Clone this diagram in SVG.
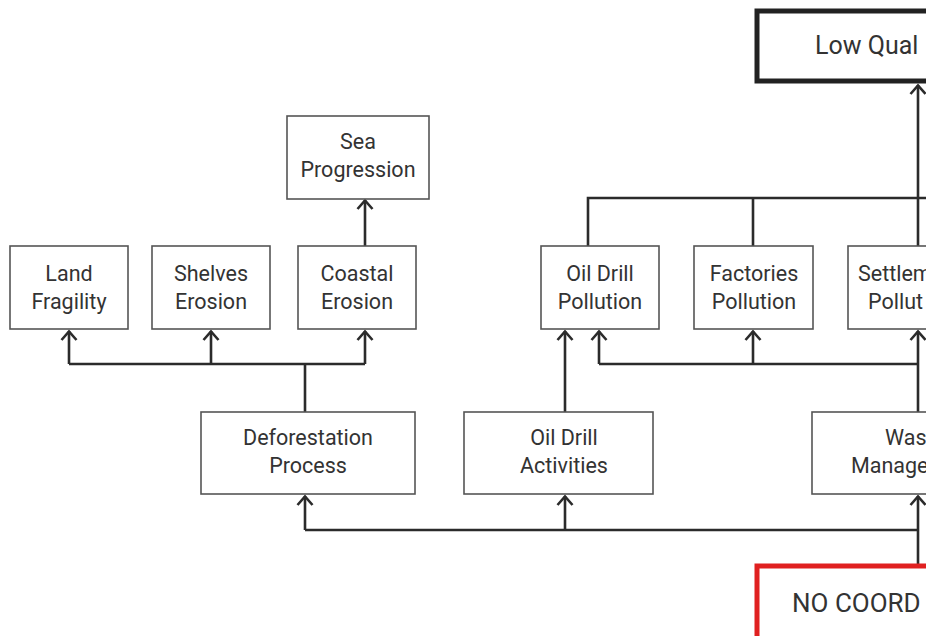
<svg xmlns="http://www.w3.org/2000/svg" width="926" height="636" viewBox="0 0 926 636">
<style>
.box{fill:#fff;stroke:#555;stroke-width:1.6}
.t{font-family:Roboto,"Open Sans",sans-serif;font-size:21.5px;fill:#333;text-anchor:middle}
.ts{font-family:Roboto,"Open Sans",sans-serif;font-size:21.5px;fill:#333}
.c{fill:none;stroke:#2b2b2b;stroke-width:2.6}
</style>
<defs>
<marker id="ah" viewBox="-12 -10 14 20" markerWidth="14" markerHeight="20" refX="0" refY="0" markerUnits="userSpaceOnUse" orient="auto">
<path d="M-9,-7.5 L-0.5,0 L-9,7.5" fill="none" stroke="#2b2b2b" stroke-width="2.6"/>
</marker>
</defs>
<rect width="926" height="636" fill="#fff"/>
<g id="connectors">
<path class="c" d="M365,246 V200" marker-end="url(#ah)"/>
<path class="c" d="M305,412 V364 M69,364 H365"/>
<path class="c" d="M69,364 V331" marker-end="url(#ah)"/>
<path class="c" d="M211,364 V331" marker-end="url(#ah)"/>
<path class="c" d="M365,364 V331" marker-end="url(#ah)"/>
<path class="c" d="M918,565 V530 M305,530 H918"/>
<path class="c" d="M305,530 V496" marker-end="url(#ah)"/>
<path class="c" d="M565,530 V496" marker-end="url(#ah)"/>
<path class="c" d="M918,530 V496" marker-end="url(#ah)"/>
<path class="c" d="M565,412 V331" marker-end="url(#ah)"/>
<path class="c" d="M918,412 V364 M599,364 H918"/>
<path class="c" d="M599,364 V331" marker-end="url(#ah)"/>
<path class="c" d="M753,364 V331" marker-end="url(#ah)"/>
<path class="c" d="M918,364 V331" marker-end="url(#ah)"/>
<path class="c" d="M588,246 V198 H930 M753,198 V246 M918,246 V120"/>
<path class="c" d="M918,120 V85" marker-end="url(#ah)"/>
</g>
<g id="low-quality">
<rect x="757" y="11" width="220" height="70" fill="#fff" stroke="#222" stroke-width="5"/>
<text class="ts" x="815" y="54" style="font-size:25px">Low Qual</text>
</g>
<g id="sea-progression">
<rect class="box" x="287" y="116" width="142" height="83"/>
<text class="t" x="358" y="149">Sea</text>
<text class="t" x="358" y="177">Progression</text>
</g>
<g id="land-fragility">
<rect class="box" x="10" y="246" width="118" height="83"/>
<text class="t" x="69" y="281">Land</text>
<text class="t" x="69" y="309">Fragility</text>
</g>
<g id="shelves-erosion">
<rect class="box" x="152" y="246" width="118" height="83"/>
<text class="t" x="211" y="281">Shelves</text>
<text class="t" x="211" y="309">Erosion</text>
</g>
<g id="coastal-erosion">
<rect class="box" x="298" y="246" width="118" height="83"/>
<text class="t" x="357" y="281">Coastal</text>
<text class="t" x="357" y="309">Erosion</text>
</g>
<g id="oil-drill-pollution">
<rect class="box" x="541" y="246" width="118" height="83"/>
<text class="t" x="600" y="281">Oil Drill</text>
<text class="t" x="600" y="309">Pollution</text>
</g>
<g id="factories-pollution">
<rect class="box" x="694" y="246" width="119" height="83"/>
<text class="t" x="754" y="281">Factories</text>
<text class="t" x="754" y="309">Pollution</text>
</g>
<g id="settlement-pollution">
<rect class="box" x="848" y="246" width="119" height="83"/>
<text class="ts" x="858" y="281">Settlem</text>
<text class="ts" x="868" y="309">Pollut</text>
</g>
<g id="deforestation-process">
<rect class="box" x="201" y="412" width="214" height="82"/>
<text class="t" x="308" y="445">Deforestation</text>
<text class="t" x="308" y="473">Process</text>
</g>
<g id="oil-drill-activities">
<rect class="box" x="464" y="412" width="189" height="82"/>
<text class="t" x="564" y="445">Oil Drill</text>
<text class="t" x="564" y="473">Activities</text>
</g>
<g id="waste-management">
<rect class="box" x="812" y="412" width="196" height="82"/>
<text class="ts" x="885" y="445">Was</text>
<text class="ts" x="851" y="473">Manage</text>
</g>
<g id="no-coordination">
<rect x="757" y="566" width="220" height="80" fill="#fff" stroke="#e02020" stroke-width="5"/>
<text class="ts" x="792" y="612" style="font-size:26px">NO COORD</text>
</g>
</svg>
